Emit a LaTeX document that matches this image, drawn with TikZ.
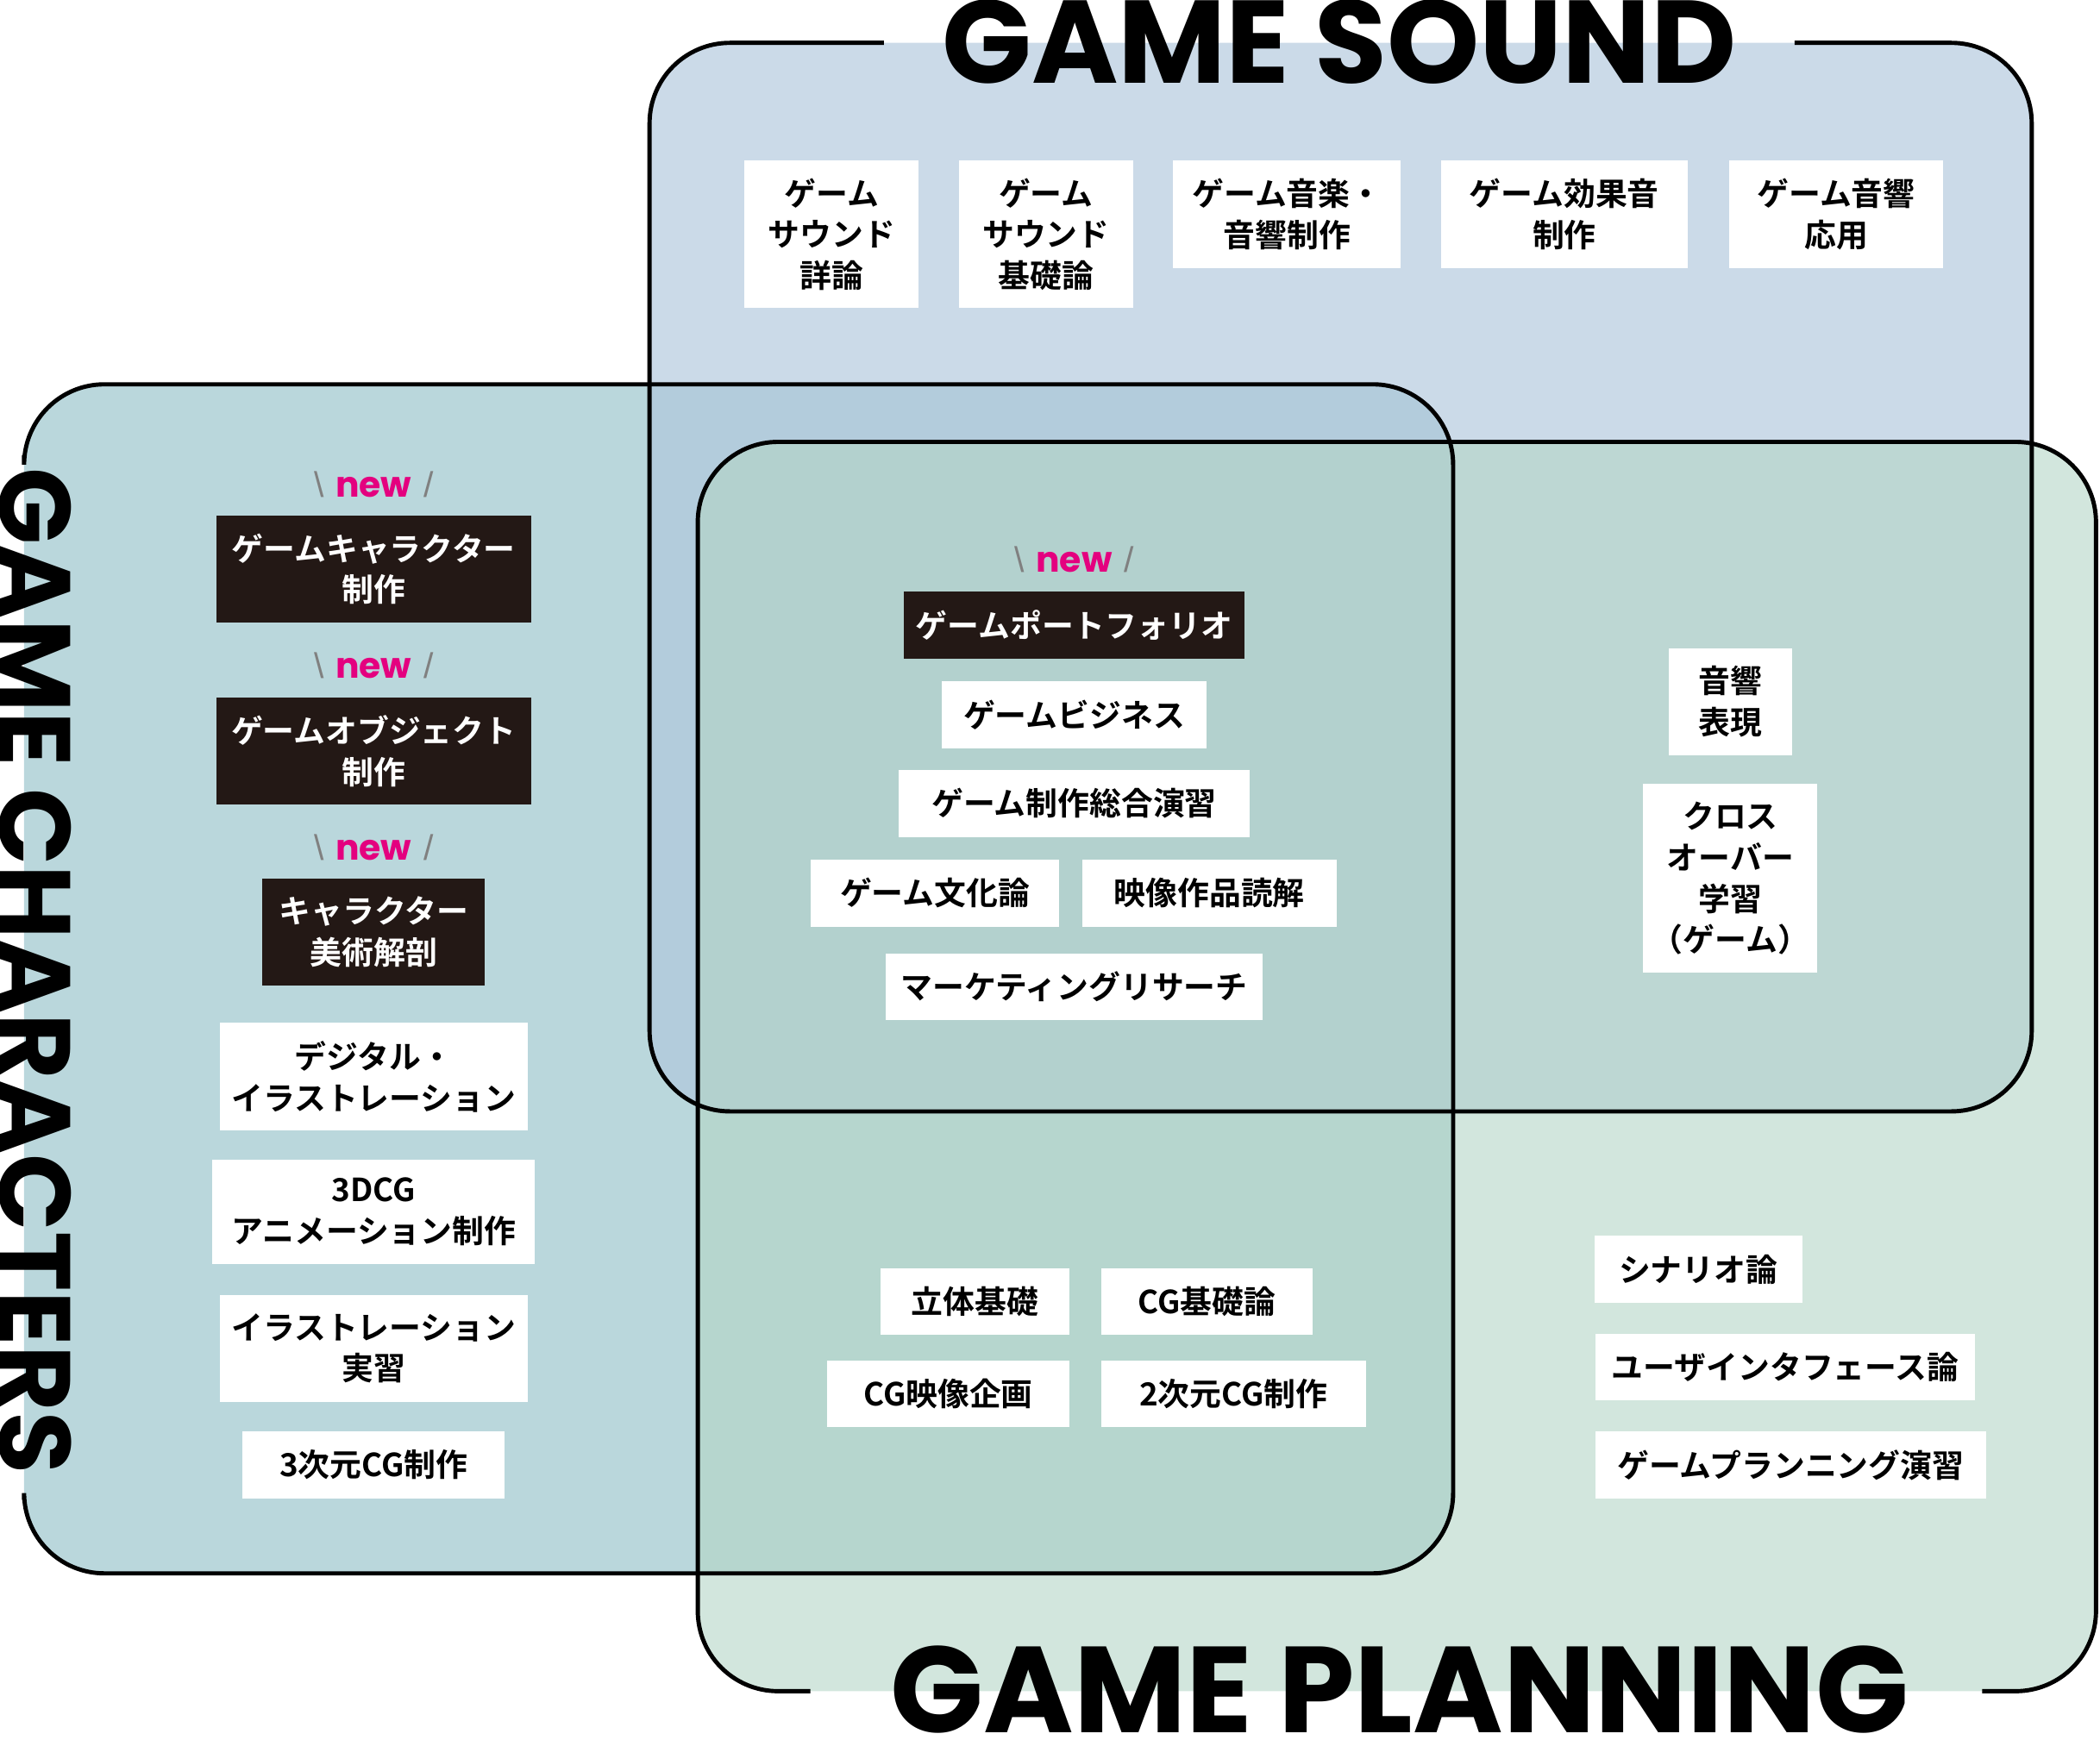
\documentclass[tikz,border=0pt]{standalone}
\usepackage{fontspec}
\setmainfont{Liberation Sans}
\newfontfamily\jpfont{Noto Sans CJK JP}[BoldFont=* Bold]
\newfontfamily\titlefont{Poppins}[BoldFont=* Bold]
\usetikzlibrary{positioning}
\definecolor{soundblue}{HTML}{AFC6DC}
\definecolor{charteal}{HTML}{A9CDD3}
\definecolor{planmint}{HTML}{B4D6C6}
\definecolor{darkbox}{HTML}{231815}
\definecolor{newpink}{HTML}{E4007F}
\newcommand{\NewMark}{{\color{gray}\textbackslash}\,\,{\color{newpink}\titlefont\bfseries new}\,\,{\color{gray}/}}

\begin{document}
\begin{tikzpicture}[x=0.02cm,y=-0.02cm,
  frame/.style={line width=1.8pt,rounded corners=1.2cm},
  wbox/.style={fill=white,inner sep=0pt,align=center,font=\jpfont\bfseries\fontsize{13.5}{17.5}\selectfont,minimum height=50*0.02cm},
  dbox/.style={wbox,fill=darkbox,text=white},
  newtag/.style={font=\fontsize{15}{18}\selectfont},
  title/.style={font=\titlefont\bfseries\fontsize{50}{50}\selectfont}]
  \useasboundingbox (0,0) rectangle (1568,1299);
  % Areas
  \fill[charteal,fill opacity=0.8,rounded corners=1.2cm] (18,287) rectangle (1085,1175);
  \fill[soundblue,fill opacity=0.65,rounded corners=1.2cm] (485,32) rectangle (1517,830);
  \fill[planmint,fill opacity=0.6,rounded corners=1.2cm] (521,330) rectangle (1565,1263);
  % Frames
  \draw[frame] (660,32) -- (485,32) -- (485,830) -- (1517,830) -- (1517,32) -- (1340,32);
  \draw[frame] (18,340) -- (18,287) -- (1085,287) -- (1085,1175) -- (18,1175) -- (18,1120);
  \draw[frame] (605,1263) -- (521,1263) -- (521,330) -- (1565,330) -- (1565,1263) -- (1480,1263);
  % Titles
  \node[title,anchor=base] (TitleSound) at (1000,62) {GAME SOUND};
  \node[title,anchor=base,font=\titlefont\bfseries\fontsize{52}{52}\selectfont] (TitlePlanning) at (1045,1294) {GAME PLANNING};
  \node[title,rotate=-90,font=\titlefont\bfseries\fontsize{43}{43}\selectfont] (TitleChars) at (26,725) {GAME CHARACTERS};
  % Sound
  \node[wbox,minimum width=130*0.02cm,minimum height=110*0.02cm] (SndDetail) at (621,175) {ゲーム\\サウンド\\詳論};
  \node[wbox,minimum width=130*0.02cm,minimum height=110*0.02cm] (SndBasic) at (781,175) {ゲーム\\サウンド\\基礎論};
  \node[wbox,minimum width=170*0.02cm,minimum height=80*0.02cm] (SndMusic) at (961,160) {ゲーム音楽・\\音響制作};
  \node[wbox,minimum width=184*0.02cm,minimum height=80*0.02cm] (SndEffect) at (1168,160) {ゲーム効果音\\制作};
  \node[wbox,minimum width=160*0.02cm,minimum height=80*0.02cm] (SndApplied) at (1371,160) {ゲーム音響\\応用};
  % Characters
  \node[newtag] (NewChar) at (279,362) {\NewMark};
  \node[dbox,minimum width=235*0.02cm,minimum height=80*0.02cm] (CharMake) at (279,425) {ゲームキャラクター\\制作};
  \node[newtag] (NewObj) at (279,497) {\NewMark};
  \node[dbox,minimum width=235*0.02cm,minimum height=80*0.02cm] (ObjMake) at (279,561) {ゲームオブジェクト\\制作};
  \node[newtag] (NewAnat) at (279,633) {\NewMark};
  \node[dbox,minimum width=166*0.02cm,minimum height=80*0.02cm] (CharAnat) at (279,696) {キャラクター\\美術解剖};
  \node[wbox,minimum width=230*0.02cm,minimum height=80*0.02cm] (DigIllust) at (279,804) {デジタル・\\イラストレーション};
  \node[wbox,minimum width=241*0.02cm,minimum height=78*0.02cm] (Anim3D) at (279,905) {3DCG\\アニメーション制作};
  \node[wbox,minimum width=230*0.02cm,minimum height=80*0.02cm] (IllustPrac) at (279,1007) {イラストレーション\\実習};
  \node[wbox,minimum width=196*0.02cm] (CG3D) at (279,1094) {3次元CG制作};
  % Center
  \node[newtag] (NewPort) at (802,418) {\NewMark};
  \node[dbox,minimum width=254*0.02cm] (Portfolio) at (802,467) {ゲームポートフォリオ};
  \node[wbox,minimum width=198*0.02cm] (Business) at (802,534) {ゲームビジネス};
  \node[wbox,minimum width=262*0.02cm] (Synth) at (802,600) {ゲーム制作総合演習};
  \node[wbox,minimum width=186*0.02cm] (Culture) at (698,667) {ゲーム文化論};
  \node[wbox,minimum width=190*0.02cm] (Film) at (903,667) {映像作品読解};
  \node[wbox,minimum width=282*0.02cm] (Market) at (802,737) {マーケティングリサーチ};
  % Sound and planning
  \node[wbox,minimum width=92*0.02cm,minimum height=80*0.02cm] (Acoustic) at (1292,524) {音響\\表現};
  \node[wbox,minimum width=130*0.02cm,minimum height=141*0.02cm] (Cross) at (1292,656) {クロス\\オーバー\\学習\\（ゲーム）};
  % Characters and planning
  \node[wbox,minimum width=141*0.02cm] (Solid) at (728,972) {立体基礎};
  \node[wbox,minimum width=158*0.02cm] (CGBasic) at (901,972) {CG基礎論};
  \node[wbox,minimum width=181*0.02cm] (CGPlan) at (708,1041) {CG映像企画};
  \node[wbox,minimum width=198*0.02cm] (CG2D) at (921,1041) {2次元CG制作};
  % Planning
  \node[wbox,minimum width=155*0.02cm] (Scenario) at (1268,948) {シナリオ論};
  \node[wbox,minimum width=283*0.02cm] (UI) at (1333,1021) {ユーザインタフェース論};
  \node[wbox,minimum width=292*0.02cm] (PlanPrac) at (1337,1094) {ゲームプランニング演習};
\end{tikzpicture}
\end{document}
